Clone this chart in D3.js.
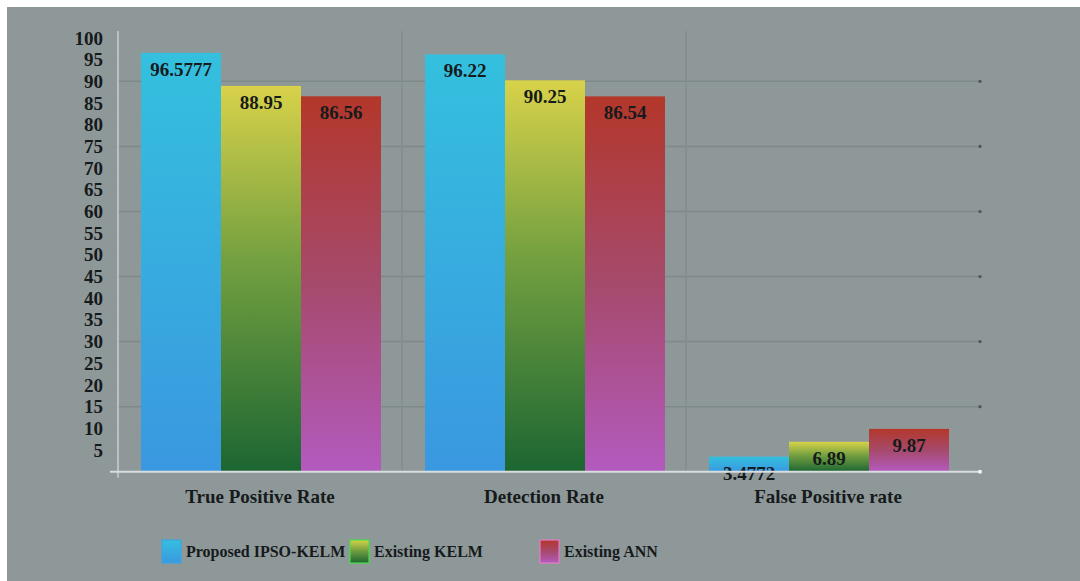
<!DOCTYPE html>
<html>
<head>
<meta charset="utf-8">
<script src="https://cdn.jsdelivr.net/npm/d3@7"></script>
<style>
  html, body { margin: 0; padding: 0; background: #ffffff; }
  svg { display: block; }
  text { font-family: "Liberation Serif", "Times New Roman", serif; font-weight: bold; fill: #161a1b; }
</style>
</head>
<body>
<svg id="chart" width="1080" height="581"></svg>
<script>
// Metrics compared across the three methods
const categories = ["True Positive Rate", "Detection Rate", "False Positive rate"];
const seriesNames = ["Proposed IPSO-KELM", "Existing KELM", "Existing ANN"];
const proposedIpsoKelm = [96.5777, 96.22, 3.4772];
const existingKelm = [88.95, 90.25, 6.89];
const existingAnn = [86.56, 86.54, 9.87];
const yTicks = [5, 10, 15, 20, 25, 30, 35, 40, 45, 50, 55, 60, 65, 70, 75, 80, 85, 90, 95, 100];
const gridTicks = [15, 30, 45, 60, 75, 90];

const seriesValues = [proposedIpsoKelm, existingKelm, existingAnn];

const svg = d3.select("#chart");
const W = 1080, H = 581;

// panel background
svg.append("rect").attr("x", 7).attr("y", 7).attr("width", W - 7).attr("height", H - 7)
  .attr("fill", "#8e9899");

// vertical colour gradients per series
const defs = svg.append("defs");
const gradStops = [
  [["0%", "#34c0de"], ["100%", "#3a98e0"]],
  [["0%", "#d8d24a"], ["45%", "#74a040"], ["100%", "#1c6632"]],
  [["0%", "#b3372a"], ["50%", "#a64a6c"], ["100%", "#b35abf"]]
];
gradStops.forEach((stops, i) => {
  const g = defs.append("linearGradient").attr("id", "grad" + i)
    .attr("x1", 0).attr("y1", 0).attr("x2", 0).attr("y2", 1);
  stops.forEach(s => g.append("stop").attr("offset", s[0]).attr("stop-color", s[1]));
});

const x0 = d3.scaleBand().domain(categories).range([118, 970]).padding(0);
const x1 = d3.scaleBand().domain(seriesNames).range([23, x0.bandwidth() - 21]).padding(0);
const y = d3.scaleLinear().domain([0, 100]).range([471.7, 38]);

const plotRight = 980;
const plotTop = y(100) - 7;

// horizontal grid lines
const grid = svg.append("g");
grid.selectAll("line.h").data(gridTicks).join("line")
  .attr("x1", 118).attr("x2", plotRight)
  .attr("y1", d => y(d)).attr("y2", d => y(d))
  .attr("stroke", "#7f898a").attr("stroke-width", 1.5);
grid.selectAll("circle.h").data(gridTicks).join("circle")
  .attr("cx", plotRight).attr("cy", d => y(d)).attr("r", 1.6)
  .attr("fill", "#4d5556");

// vertical separators between categories
grid.selectAll("line.v").data(categories.slice(1)).join("line")
  .attr("x1", d => x0(d)).attr("x2", d => x0(d))
  .attr("y1", plotTop).attr("y2", y(0))
  .attr("stroke", "#838d8e").attr("stroke-width", 1.5);

// y axis
const yAxis = d3.axisLeft(y).tickValues(yTicks).tickSize(6).tickPadding(10);
const ya = svg.append("g").attr("transform", "translate(118,0)").call(yAxis);
ya.select(".domain").remove();
ya.selectAll(".tick line").attr("stroke", "#8a9495").attr("stroke-opacity", 0.6);
ya.selectAll(".tick text").attr("font-size", 19).attr("fill", "#161a1b")
  .attr("font-family", "Liberation Serif, serif").attr("font-weight", "bold")
  .attr("x", -15);
svg.append("line").attr("x1", 118).attr("x2", 118).attr("y1", plotTop).attr("y2", y(0) + 6)
  .attr("stroke", "#c9cfcf").attr("stroke-width", 1.5);

// bars
const groups = svg.append("g").selectAll("g").data(categories).join("g")
  .attr("transform", d => `translate(${x0(d)},0)`);

groups.each(function (cat, ci) {
  const g = d3.select(this);
  const rows = seriesNames.map((s, si) => ({ s, si, v: seriesValues[si][ci] }));
  g.selectAll("rect").data(rows).join("rect")
    .attr("x", d => x1(d.s))
    .attr("y", d => y(d.v))
    .attr("width", x1.bandwidth())
    .attr("height", d => y(0) - y(d.v))
    .attr("fill", d => `url(#grad${d.si})`);
  g.selectAll("text").data(rows).join("text")
    .attr("x", d => x1(d.s) + x1.bandwidth() / 2)
    .attr("y", d => y(d.v) + 23)
    .attr("text-anchor", "middle")
    .attr("font-size", 19)
    .text(d => d.v);
});

// x axis baseline
svg.append("line").attr("x1", 110).attr("x2", plotRight).attr("y1", y(0)).attr("y2", y(0))
  .attr("stroke", "#d9dddd").attr("stroke-width", 2);
svg.append("circle").attr("cx", plotRight).attr("cy", y(0)).attr("r", 2).attr("fill", "#f4f4f4");

// category labels
svg.append("g").selectAll("text").data(categories).join("text")
  .attr("x", d => x0(d) + x0.bandwidth() / 2)
  .attr("y", 503)
  .attr("text-anchor", "middle")
  .attr("font-size", 19)
  .text(d => d);

// legend
const legendX = [162, 350, 540];
const legendBorder = ["#3aa6e2", "#44e044", "#e878c8"];
const lg = svg.append("g").selectAll("g").data(seriesNames).join("g")
  .attr("transform", (d, i) => `translate(${legendX[i]},540)`);
lg.append("rect").attr("width", 19).attr("height", 23)
  .attr("fill", (d, i) => `url(#grad${i})`)
  .attr("stroke", (d, i) => legendBorder[i]).attr("stroke-width", 1.2);
lg.append("text").attr("x", 24).attr("y", 17).attr("font-size", 16).text(d => d);
</script>
</body>
</html>
